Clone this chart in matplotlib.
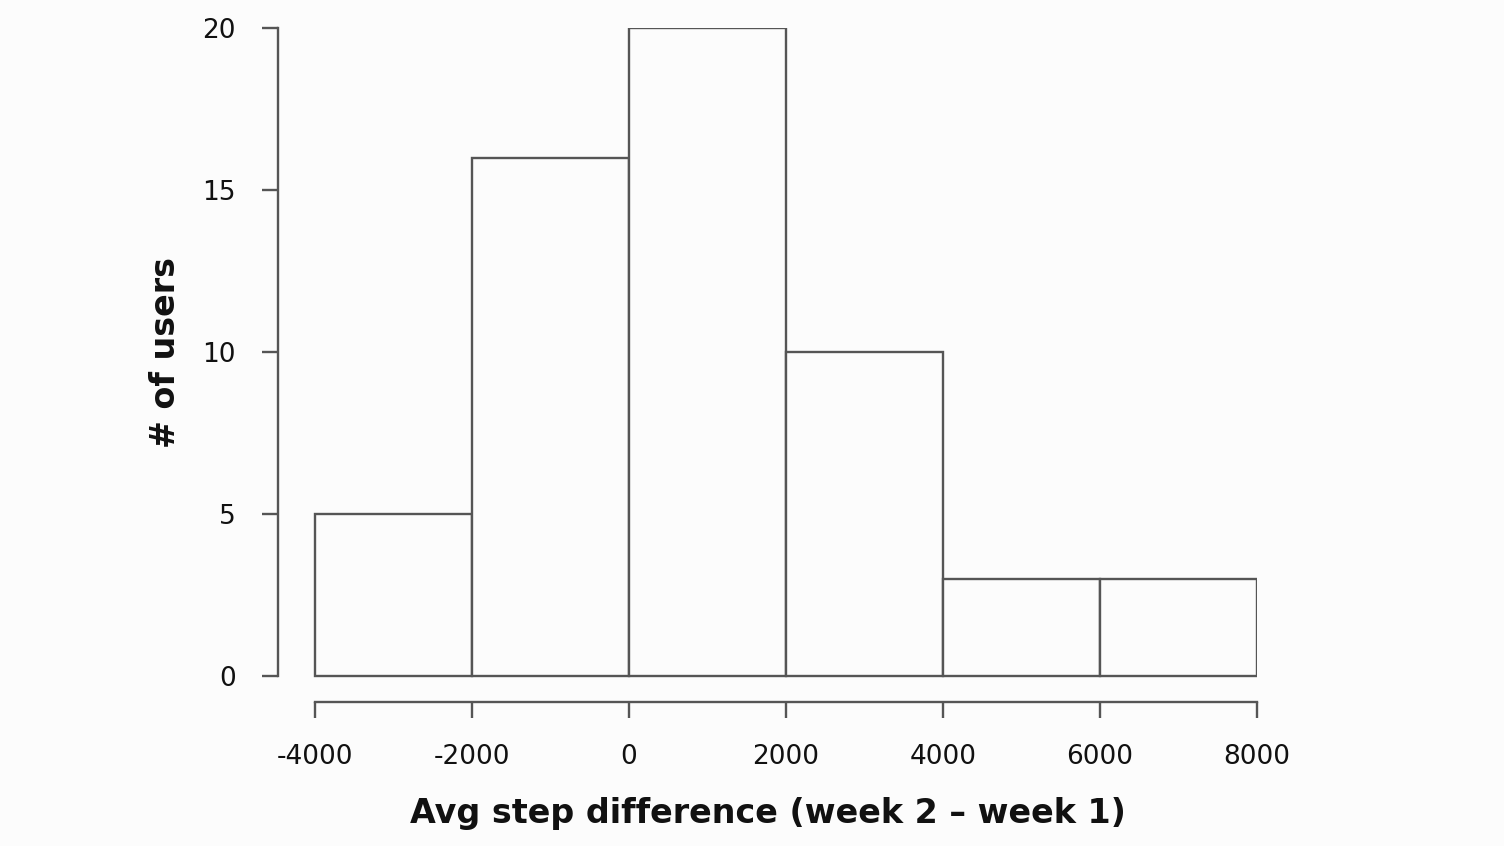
import numpy as np
import matplotlib
matplotlib.use('Agg')
import matplotlib.pyplot as plt

# histogram data
bin_edges = [-4000, -2000, 0, 2000, 4000, 6000, 8000]
counts = [5, 16, 20, 10, 3, 3]
x_ticks = [-4000, -2000, 0, 2000, 4000, 6000, 8000]
y_ticks = [0, 5, 10, 15, 20]

bg = '#fcfcfc'
line_color = '#555555'

fig = plt.figure(figsize=(15.04, 8.46), dpi=100, facecolor=bg)
# axes placed in pixel terms: left spine at x=278, bottom spine at y=702
ax = fig.add_axes([278 / 1504, (846 - 702) / 846, (1257 - 278) / 1504, (702 - 28) / 846])
ax.set_facecolor(bg)

widths = np.diff(bin_edges)
ax.bar(
    bin_edges[:-1], counts, width=widths, align='edge',
    facecolor=bg, edgecolor=line_color, linewidth=1.7
)

ax.set_xlim(-4471, 8000)
ax.set_ylim(-0.80, 20)

for side in ('top', 'right'):
    ax.spines[side].set_visible(False)
ax.spines['left'].set_bounds(0, 20)
ax.spines['bottom'].set_bounds(-4000, 8000)
for side in ('left', 'bottom'):
    ax.spines[side].set_color(line_color)
    ax.spines[side].set_linewidth(1.7)

ax.set_xticks(x_ticks)
ax.set_xticklabels([str(v) for v in x_ticks])
ax.set_yticks(y_ticks)
ax.tick_params(
    direction='out', length=11.5, width=1.7, color=line_color,
    labelsize=19, labelcolor='#111111', pad=19
)

ax.set_xlabel('Avg step difference (week 2 – week 1)',
              fontsize=24, fontweight='bold', labelpad=19, color='#111111')
ax.set_ylabel('# of users', fontsize=24, fontweight='bold', color='#111111')
# centred on the 0-20 range of the spine, not the whole axes
ax.yaxis.set_label_coords(-0.098, 0.519)

fig.savefig('out.png', dpi=100, facecolor=bg)
